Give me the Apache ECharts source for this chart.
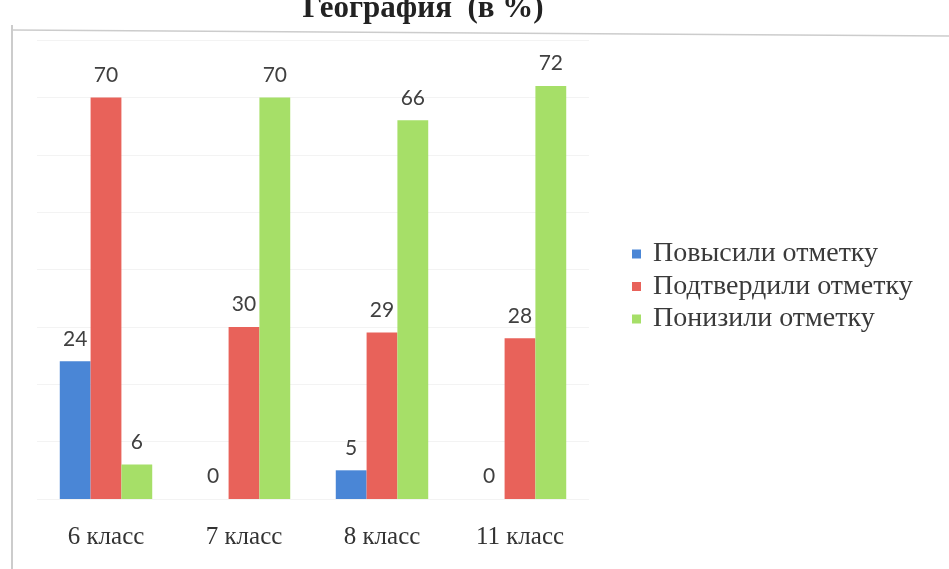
<!DOCTYPE html>
<html><head><meta charset="utf-8">
<script src="https://cdn.jsdelivr.net/npm/echarts@6/dist/echarts.min.js"></script>
<style>html,body{margin:0;padding:0;background:#fff}#c{width:949px;height:569px}</style>
</head><body><div id="c"></div>
<script>
const title = "География  (в %)";
const categories = ["6 класс", "7 класс", "8 класс", "11 класс"];
const seriesNames = ["Повысили отметку", "Подтвердили отметку", "Понизили отметку"];
const raised = [24, 0, 5, 0];
const confirmed = [70, 30, 29, 28];
const lowered = [6, 70, 66, 72];
const colors = ["#4a86d6", "#e8625a", "#a6df68"];

const chart = echarts.init(document.getElementById('c'));
const label = {show: true, position: 'top', distance: 12, color: '#404040', fontFamily: 'Lato', fontSize: 21};
const values = [raised, confirmed, lowered];
chart.setOption({
  animation: false,
  color: colors,
  title: {text: title, left: 418, textAlign: 'center', top: -12,
    textStyle: {fontFamily: 'Liberation Serif', fontWeight: 'bold', fontSize: 31, color: '#222'}},
  legend: {orient: 'vertical', left: 627, top: 235, itemWidth: 9, itemHeight: 9, itemGap: 4.5,
    icon: 'rect', data: seriesNames, formatter: n => ' ' + n,
    textStyle: {fontFamily: 'Liberation Serif', fontSize: 28, lineHeight: 28, color: '#3a3a3a'}},
  grid: {left: 37, width: 552, top: 40, height: 459},
  xAxis: {type: 'category', data: categories, axisLine: {show: false}, axisTick: {show: false},
    axisLabel: {margin: 26, fontFamily: 'Liberation Serif', fontSize: 25, color: '#333'}},
  yAxis: {type: 'value', min: 0, max: 80, interval: 10, axisLabel: {show: false},
    axisLine: {show: false}, axisTick: {show: false},
    splitLine: {lineStyle: {color: '#f3f3f3'}}},
  graphic: [
    {type: 'line', shape: {x1: 12, y1: 25, x2: 12, y2: 569}, style: {stroke: '#bbb', lineWidth: 1.5}},
    {type: 'line', shape: {x1: 12, y1: 30, x2: 949, y2: 36}, style: {stroke: '#ccc', lineWidth: 1.5}}
  ],
  series: seriesNames.map((n, i) => ({
    name: n, type: 'bar', data: values[i], barGap: '0%', barCategoryGap: '33%', label: label
  }))
});
</script></body></html>
